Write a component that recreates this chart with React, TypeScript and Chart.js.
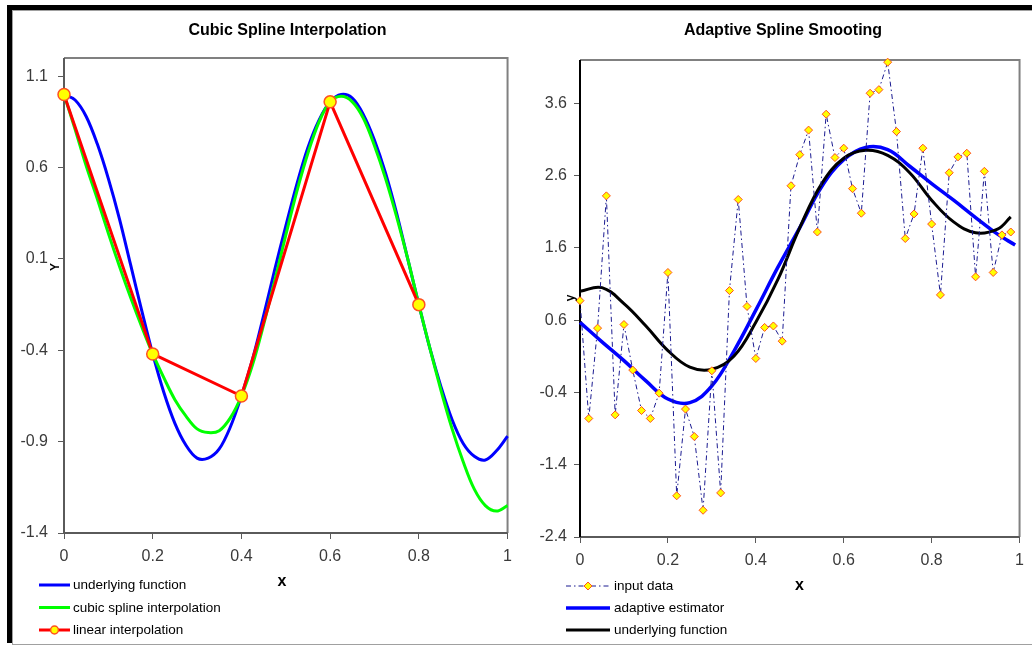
import React, { useEffect, useRef } from "react";
import { Chart, registerables } from "chart.js";

Chart.register(...registerables);

const FONT = '"Liberation Sans", Arial, Helvetica, sans-serif';

// ---------------- Left chart: Cubic Spline Interpolation ----------------
const leftTitle = "Cubic Spline Interpolation";
const curveX = [
  0, 0.025, 0.05, 0.075, 0.1, 0.125, 0.15, 0.175, 0.2, 0.225, 0.25, 0.275, 0.3, 0.325,
  0.35, 0.375, 0.4, 0.425, 0.45, 0.475, 0.5, 0.525, 0.55, 0.575, 0.6, 0.625, 0.65,
  0.675, 0.7, 0.725, 0.75, 0.775, 0.8, 0.825, 0.85, 0.875, 0.9, 0.925, 0.95, 0.975, 1,
];
const underlyingLeftY = [
  1.0, 0.97, 0.88, 0.73, 0.54, 0.32, 0.07, -0.18, -0.42, -0.63, -0.8, -0.92, -0.99, -0.99,
  -0.94, -0.82, -0.65, -0.45, -0.21, 0.04, 0.28, 0.51, 0.71, 0.86, 0.96, 1.0, 0.98,
  0.89, 0.75, 0.57, 0.35, 0.1, -0.15, -0.39, -0.6, -0.78, -0.91, -0.98, -1.0, -0.95, -0.87,
];
const cubicSplineY = [
  1.0, 0.81, 0.61, 0.43, 0.24, 0.06, -0.11, -0.27, -0.42, -0.55, -0.67, -0.76, -0.83, -0.85,
  -0.84, -0.77, -0.65, -0.48, -0.26, -0.02, 0.23, 0.47, 0.68, 0.85, 0.96, 0.99, 0.96,
  0.87, 0.72, 0.54, 0.33, 0.1, -0.15, -0.39, -0.62, -0.83, -1.01, -1.16, -1.25, -1.28, -1.25,
];
const knotX = [0, 0.2, 0.4, 0.6, 0.8];
const knotY = [1.0, -0.42, -0.65, 0.96, -0.15];
const leftYTicks = [-1.4, -0.9, -0.4, 0.1, 0.6, 1.1];
const leftLabels = ["underlying function", "cubic spline interpolation", "linear interpolation"];

// ---------------- Right chart: Adaptive Spline Smooting ----------------
const rightTitle = "Adaptive Spline Smooting";
const inputX = [
  0, 0.02, 0.04, 0.06, 0.08, 0.1, 0.12, 0.14, 0.16, 0.18, 0.2, 0.22, 0.24, 0.26, 0.28,
  0.3, 0.32, 0.34, 0.36, 0.38, 0.4, 0.42, 0.44, 0.46, 0.48, 0.5, 0.52, 0.54, 0.56, 0.58,
  0.6, 0.62, 0.64, 0.66, 0.68, 0.7, 0.72, 0.74, 0.76, 0.78, 0.8, 0.82, 0.84, 0.86, 0.88,
  0.9, 0.92, 0.94, 0.96, 0.98,
];
const inputY = [
  0.87, -0.76, 0.49, 2.32, -0.71, 0.54, -0.09, -0.65, -0.76, -0.41, 1.26, -1.83, -0.63,
  -1.01, -2.03, -0.1, -1.79, 1.01, 2.27, 0.79, 0.07, 0.5, 0.52, 0.31, 2.46, 2.89, 3.23,
  1.82, 3.45, 2.85, 2.98, 2.42, 2.08, 3.74, 3.79, 4.17, 3.21, 1.73, 2.07, 2.98, 1.93,
  0.95, 2.64, 2.86, 2.91, 1.2, 2.66, 1.26, 1.78, 1.82,
];
const adaptiveX = [
  0, 0.05, 0.1, 0.15, 0.2, 0.25, 0.3, 0.35, 0.4, 0.45, 0.5, 0.55, 0.6, 0.65, 0.7, 0.75,
  0.8, 0.85, 0.9, 0.95, 0.99,
];
const adaptiveY = [
  0.57, 0.3, 0.04, -0.24, -0.49, -0.54, -0.31, 0.17, 0.74, 1.33, 1.88, 2.45, 2.82, 2.99,
  2.96, 2.73, 2.49, 2.26, 2.02, 1.79, 1.64,
];
const trueX = [
  0, 0.05, 0.1, 0.15, 0.2, 0.25, 0.3, 0.35, 0.4, 0.45, 0.5, 0.55, 0.6, 0.65, 0.7, 0.75,
  0.8, 0.85, 0.9, 0.95, 0.98,
];
const trueY = [
  1.0, 1.05, 0.83, 0.52, 0.18, -0.05, -0.08, 0.1, 0.57, 1.16, 1.88, 2.49, 2.84, 2.95,
  2.88, 2.64, 2.26, 1.96, 1.81, 1.86, 2.03,
];
const rightYTicks = [-2.4, -1.4, -0.4, 0.6, 1.6, 2.6, 3.6];
const rightLabels = ["input data", "adaptive estimator", "underlying function"];

const xTicks = [0, 0.2, 0.4, 0.6, 0.8, 1];

const pts = (xs: number[], ys: number[]) => xs.map((x, i) => ({ x, y: ys[i] }));

type Decor = {
  title: string;
  titleX: number;
  titleY: number;
  xLabel: string;
  xLabelX: number;
  xLabelY: number;
  yLabel: string;
  yLabelX: number;
  yLabelY: number;
  legend: { text: string; ds: number }[];
  legendX1: number;
  legendX2: number;
  legendTextX: number;
  legendY: number[];
  leftAxisColor: string;
};

function drawMarker(ctx: CanvasRenderingContext2D, ds: any, x: number, y: number, r: number) {
  ctx.save();
  ctx.setLineDash([]);
  ctx.fillStyle = ds.pointBackgroundColor;
  ctx.strokeStyle = ds.pointBorderColor;
  ctx.lineWidth = ds.pointBorderWidth;
  ctx.beginPath();
  if (ds.pointStyle === "rectRot") {
    ctx.moveTo(x, y - r);
    ctx.lineTo(x + r, y);
    ctx.lineTo(x, y + r);
    ctx.lineTo(x - r, y);
    ctx.closePath();
  } else {
    ctx.arc(x, y, r, 0, Math.PI * 2);
  }
  ctx.fill();
  ctx.stroke();
  ctx.restore();
}

function makeDecor(d: Decor) {
  return {
    id: "decor",
    beforeDatasetsDraw(chart: any) {
      const { ctx, chartArea: a } = chart;
      ctx.save();
      ctx.lineWidth = 2;
      ctx.strokeStyle = "#808080";
      ctx.beginPath();
      ctx.moveTo(a.left, a.top);
      ctx.lineTo(a.right, a.top);
      ctx.lineTo(a.right, a.bottom);
      ctx.stroke();
      ctx.strokeStyle = "#5a5a5a";
      ctx.beginPath();
      ctx.moveTo(a.left, a.bottom);
      ctx.lineTo(a.right, a.bottom);
      ctx.stroke();
      ctx.strokeStyle = d.leftAxisColor;
      ctx.beginPath();
      ctx.moveTo(a.left, a.top);
      ctx.lineTo(a.left, a.bottom);
      ctx.stroke();
      ctx.restore();
    },
    afterDraw(chart: any) {
      const ctx: CanvasRenderingContext2D = chart.ctx;
      ctx.save();
      ctx.fillStyle = "#000";
      ctx.textAlign = "center";
      ctx.textBaseline = "middle";
      ctx.font = `bold 16px ${FONT}`;
      ctx.fillText(d.title, d.titleX, d.titleY);
      ctx.font = `bold 16px ${FONT}`;
      ctx.fillText(d.xLabel, d.xLabelX, d.xLabelY);
      ctx.save();
      ctx.translate(d.yLabelX, d.yLabelY);
      ctx.rotate(-Math.PI / 2);
      ctx.font = `bold 12px ${FONT}`;
      ctx.fillText(d.yLabel, 0, 0);
      ctx.restore();

      d.legend.forEach((item, i) => {
        const ds = chart.data.datasets[item.ds];
        const y = d.legendY[i];
        ctx.save();
        ctx.strokeStyle = ds.borderColor;
        ctx.lineWidth = ds.borderWidth;
        ctx.setLineDash(ds.borderDash || []);
        ctx.beginPath();
        ctx.moveTo(d.legendX1, y);
        ctx.lineTo(d.legendX2, y);
        ctx.stroke();
        ctx.restore();
        if (ds.pointRadius > 0) {
          const r = ds.pointStyle === "rectRot" ? ds.pointRadius : ds.pointRadius * 0.65;
          drawMarker(ctx, ds, (d.legendX1 + d.legendX2) / 2, y, r);
        }
        ctx.fillStyle = "#000";
        ctx.textAlign = "left";
        ctx.textBaseline = "middle";
        ctx.font = `13.5px ${FONT}`;
        ctx.fillText(item.text, d.legendTextX, y + 0.5);
      });
      ctx.restore();
    },
  };
}

function scales(yMin: number, yMax: number, yTicks: number[], yWidth: number, xHeight: number, yPad: number, xPad: number) {
  const tickStyle = { color: "#3a3a3a", font: { family: FONT, size: 16 } };
  return {
    x: {
      type: "linear",
      min: 0,
      max: 1,
      afterBuildTicks: (axis: any) => {
        axis.ticks = xTicks.map((v) => ({ value: v }));
      },
      afterFit: (axis: any) => {
        axis.height = xHeight;
      },
      ticks: { ...tickStyle, padding: xPad, maxRotation: 0, autoSkip: false, callback: (v: any) => String(v) },
      grid: { drawOnChartArea: false, drawTicks: true, tickLength: 6, color: "#5a5a5a", lineWidth: 1 },
      border: { display: false },
    },
    y: {
      type: "linear",
      min: yMin,
      max: yMax,
      afterBuildTicks: (axis: any) => {
        axis.ticks = yTicks.map((v) => ({ value: v }));
      },
      afterFit: (axis: any) => {
        axis.width = yWidth;
      },
      ticks: { ...tickStyle, padding: yPad, autoSkip: false, callback: (v: any) => String(v) },
      grid: { drawOnChartArea: false, drawTicks: true, tickLength: 6, color: "#5a5a5a", lineWidth: 1 },
      border: { display: false },
    },
  };
}

function leftConfig(): any {
  return {
    type: "line",
    data: {
      datasets: [
        {
          label: leftLabels[0],
          data: pts(curveX, underlyingLeftY),
          borderColor: "#0000FF",
          borderWidth: 3,
          pointRadius: 0,
          tension: 0.35,
          order: 3,
          clip: false,
        },
        {
          label: leftLabels[1],
          data: pts(curveX, cubicSplineY),
          borderColor: "#00FF00",
          borderWidth: 3,
          pointRadius: 0,
          tension: 0.35,
          order: 2,
          clip: false,
        },
        {
          label: leftLabels[2],
          data: pts(knotX, knotY),
          borderColor: "#FF0000",
          borderWidth: 3,
          pointRadius: 6,
          pointStyle: "circle",
          pointBackgroundColor: "#FFFF00",
          pointBorderColor: "#FF5020",
          pointBorderWidth: 1.5,
          order: 1,
          clip: false,
        },
      ],
    },
    options: {
      animation: false,
      responsive: false,
      events: [],
      layout: { padding: { left: 0, top: 47, right: 10, bottom: 0 } },
      plugins: { legend: { display: false }, tooltip: { enabled: false }, title: { display: false } },
      scales: scales(-1.4, 1.2, leftYTicks, 52, 111, 10, 8),
    },
    plugins: [
      makeDecor({
        title: leftTitle,
        titleX: 275.5,
        titleY: 20,
        xLabel: "x",
        xLabelX: 270,
        xLabelY: 571,
        yLabel: "Y",
        yLabelX: 44,
        yLabelY: 256,
        legend: [
          { text: leftLabels[0], ds: 0 },
          { text: leftLabels[1], ds: 1 },
          { text: leftLabels[2], ds: 2 },
        ],
        legendX1: 27,
        legendX2: 58,
        legendTextX: 61,
        legendY: [574, 596.5, 619],
        leftAxisColor: "#5a5a5a",
      }),
    ],
  };
}

function rightConfig(): any {
  return {
    type: "line",
    data: {
      datasets: [
        {
          label: rightLabels[0],
          data: pts(inputX, inputY),
          borderColor: "#1a1a90",
          borderWidth: 1,
          borderDash: [5, 3, 1.5, 3],
          pointRadius: 4,
          pointStyle: "rectRot",
          pointBackgroundColor: "#FFFF00",
          pointBorderColor: "#FF5020",
          pointBorderWidth: 1,
          order: 1,
          clip: false,
        },
        {
          label: rightLabels[1],
          data: pts(adaptiveX, adaptiveY),
          borderColor: "#0000FF",
          borderWidth: 3.5,
          pointRadius: 0,
          tension: 0.4,
          order: 3,
          clip: false,
        },
        {
          label: rightLabels[2],
          data: pts(trueX, trueY),
          borderColor: "#000000",
          borderWidth: 3,
          pointRadius: 0,
          tension: 0.4,
          order: 2,
          clip: false,
        },
      ],
    },
    options: {
      animation: false,
      responsive: false,
      events: [],
      layout: { padding: { left: 0, top: 49, right: 12, bottom: 0 } },
      plugins: { legend: { display: false }, tooltip: { enabled: false }, title: { display: false } },
      scales: scales(-2.4, 4.2, rightYTicks, 60, 107, 7, 8),
    },
    plugins: [
      makeDecor({
        title: rightTitle,
        titleX: 263,
        titleY: 20,
        xLabel: "x",
        xLabelX: 279.5,
        xLabelY: 575,
        yLabel: "y",
        yLabelX: 51,
        yLabelY: 287,
        legend: [
          { text: rightLabels[0], ds: 0 },
          { text: rightLabels[1], ds: 1 },
          { text: rightLabels[2], ds: 2 },
        ],
        legendX1: 46,
        legendX2: 90,
        legendTextX: 94,
        legendY: [575, 597, 619],
        leftAxisColor: "#000000",
      }),
    ],
  };
}

export default function App() {
  const leftRef = useRef<HTMLCanvasElement>(null);
  const rightRef = useRef<HTMLCanvasElement>(null);

  useEffect(() => {
    const c1 = new Chart(leftRef.current as HTMLCanvasElement, leftConfig());
    const c2 = new Chart(rightRef.current as HTMLCanvasElement, rightConfig());
    return () => {
      c1.destroy();
      c2.destroy();
    };
  }, []);

  const abs = (l: number, t: number, w: number, h: number, bg: string): React.CSSProperties => ({
    position: "absolute",
    left: l,
    top: t,
    width: w,
    height: h,
    background: bg,
  });

  return (
    <div style={{ position: "fixed", left: 0, top: 0, width: 1032, height: 646, background: "#fff", overflow: "hidden" }}>
      <div style={abs(7, 5, 1025, 5, "#000")} />
      <div style={abs(7, 5, 5, 638, "#000")} />
      <div style={abs(12, 10, 1020, 1, "#a0a0a0")} />
      <div style={abs(12, 10, 1, 634, "#a0a0a0")} />
      <div style={abs(12, 644, 1020, 1, "#a0a0a0")} />
      <canvas ref={leftRef} width={508} height={633} style={{ position: "absolute", left: 12, top: 11, width: 508, height: 633 }} />
      <canvas ref={rightRef} width={512} height={633} style={{ position: "absolute", left: 520, top: 11, width: 512, height: 633 }} />
    </div>
  );
}
